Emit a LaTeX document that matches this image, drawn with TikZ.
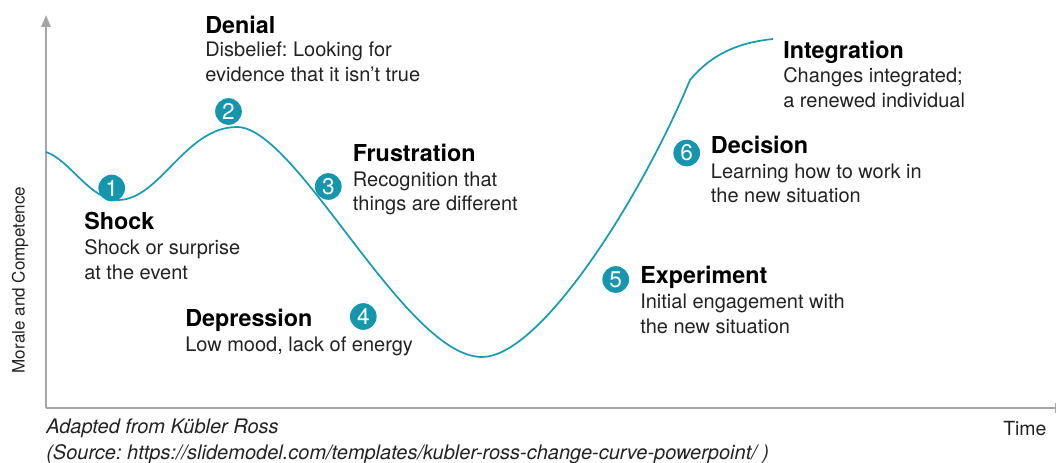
\documentclass[tikz,border=0pt]{standalone}
\usepackage{fontspec}
\setmainfont{TeX Gyre Heros}
\usetikzlibrary{arrows.meta}
\frenchspacing
\definecolor{curveteal}{RGB}{26,155,176}
\definecolor{badgeteal}{RGB}{22,150,172}
\definecolor{axisgray}{RGB}{166,166,166}
\definecolor{bodygray}{RGB}{34,34,34}
\tikzset{
  heading/.style={anchor=base west, inner sep=0pt, text=black,
    font=\fontsize{17.5}{20}\selectfont\bfseries},
  bodyline/.style={anchor=base west, inner sep=0pt, text=bodygray,
    font=\fontsize{15}{18}\selectfont},
  badge/.style={circle, fill=badgeteal, text=white, minimum size=20pt,
    inner sep=0pt, font=\fontsize{17}{17}\selectfont},
  axis/.style={draw=axisgray, line width=1.5pt},
  note/.style={anchor=base west, inner sep=0pt, text=bodygray,
    font=\fontsize{15}{18}\selectfont\itshape},
}
\begin{document}
\begin{tikzpicture}[x=0.75pt, y=-0.75pt]
\useasboundingbox (0,0) rectangle (1056,463);

% axes
\coordinate (origin) at (46,408);
\coordinate (ytop) at (46,15);
\coordinate (xend) at (1067,408);
\draw[axis, -{Triangle[length=9pt, width=7pt]}] (origin) -- (ytop);
\draw[axis, -{Triangle[length=9pt, width=7pt]}] (origin) -- (xend);
\node[rotate=90, inner sep=0pt, text=bodygray, font=\fontsize{12.8}{14}\selectfont]
  (ylabel) at (20,280) {Morale and Competence};
\node[anchor=base west, inner sep=0pt, text=bodygray, font=\fontsize{14.6}{16}\selectfont]
  (xlabel) at (1003,435) {Time};

% change curve
\draw[curveteal, line width=1.3pt]
  (46,152) .. controls (70,160) and (90,200) .. (118,200)
  .. controls (160,200) and (185,127) .. (237,127)
  .. controls (297,127) and (405,357) .. (482,357)
  .. controls (540,357) and (640,200) .. (690,80)
  .. controls (715,50) and (745,42) .. (773,39);

% stage markers
\node[badge] (b1) at (111.7,188) {1};
\node[badge] (b2) at (228.5,111.5) {2};
\node[badge] (b3) at (328.3,186.5) {3};
\node[badge] (b4) at (363.3,316.5) {4};
\node[badge] (b5) at (615.7,279.5) {5};
\node[badge] (b6) at (686.7,153) {6};

% stage texts
\node[heading] (shockH) at (84,229.3) {Shock};
\node[bodyline] (shock1) at (84,255) {Shock or surprise};
\node[bodyline] (shock2) at (84,280) {at the event};

\node[heading] (denialH) at (205,33.3) {Denial};
\node[bodyline] (denial1) at (205,57) {Disbelief: Looking for};
\node[bodyline] (denial2) at (205,82) {evidence that it isn’t true};

\node[heading] (frustH) at (352.7,161.7) {Frustration};
\node[bodyline] (frust1) at (352.7,186.7) {Recognition that};
\node[bodyline] (frust2) at (352.7,211) {things are different};

\node[heading] (deprH) at (185,326.7) {Depression};
\node[bodyline] (depr1) at (185,351.7) {Low mood, lack of energy};

\node[heading] (expH) at (640,283.3) {Experiment};
\node[bodyline] (exp1) at (640,308.3) {Initial engagement with};
\node[bodyline] (exp2) at (640,333.3) {the new situation};

\node[heading] (decH) at (710.7,153.3) {Decision};
\node[bodyline] (dec1) at (710.7,178.3) {Learning how to work in};
\node[bodyline] (dec2) at (710.7,202.5) {the new situation};

\node[heading] (intH) at (783,58.3) {Integration};
\node[bodyline] (int1) at (783,82.7) {Changes integrated;};
\node[bodyline] (int2) at (783,107.3) {a renewed individual};

% source note
\node[note] (src1) at (46,433) {Adapted from Kübler Ross};
\node[note] (src2) at (46,459) {(Source: https://slidemodel.com/templates/kubler-ross-change-curve-powerpoint/ )};
\end{tikzpicture}
\end{document}
